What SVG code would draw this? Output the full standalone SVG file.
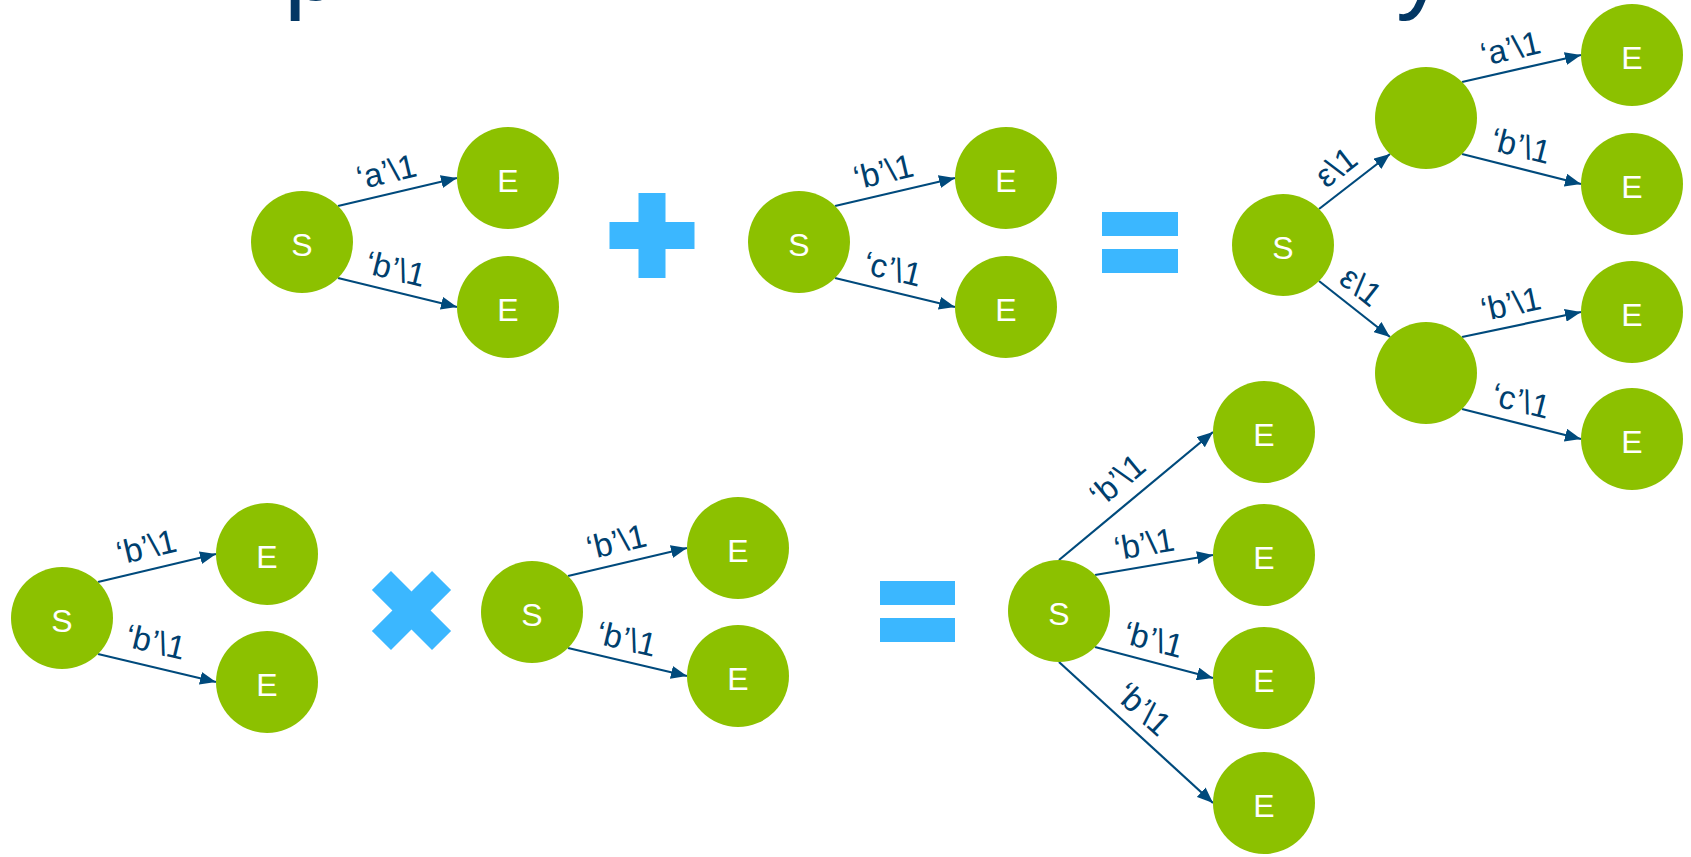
<svg xmlns="http://www.w3.org/2000/svg" width="1691" height="857" viewBox="0 0 1691 857">
  <style>
    .node circle { fill: #8CC100; }
    .node text { font-family: "Liberation Sans", Arial, sans-serif; font-size: 32px; fill: #ffffff; text-anchor: middle; }
    .edges line { stroke: #004A7C; stroke-width: 2.2; fill: none; marker-end: url(#arrow); }
    .lbl { font-family: "Liberation Sans", Arial, sans-serif; font-size: 33px; fill: #003F6E; text-anchor: middle; }
    .op { fill: #3BB7FF; }
    .title { font-family: "Liberation Sans", Arial, sans-serif; font-size: 100px; fill: #033764; }
  </style>
  <defs>
    <marker id="arrow" markerUnits="userSpaceOnUse" markerWidth="16" markerHeight="13" viewBox="0 0 16 13" refX="16" refY="6.5" orient="auto">
      <path d="M0,0 L16,6.5 L0,13 z" fill="#004A7C"/>
    </marker>
    <!-- operator glyph: a thick cross, 85 wide with 27 thick arms, centred on 0,0 -->
    <path id="cross" d="M-13.5,-42.5 H13.5 V-13.5 H42.5 V13.5 H13.5 V42.5 H-13.5 V13.5 H-42.5 V-13.5 H-13.5 Z"/>
  </defs>

  <rect width="1691" height="857" fill="#ffffff"/>

  <!-- heading running off the top edge; only its descenders fall inside the page -->
  <g id="title">
    <text class="title" x="284" y="0">p</text>
    <text class="title" x="1396" y="0">y</text>
  </g>

  <!-- operators -->
  <g id="op-plus" class="op"><use href="#cross" x="652" y="235.5"/></g>
  <g id="op-eq-top" class="op">
    <rect x="1102" y="212" width="76" height="24"/>
    <rect x="1102" y="249" width="76" height="24"/>
  </g>
  <g id="op-times" class="op"><use href="#cross" transform="translate(411.5 610.5) rotate(45)"/></g>
  <g id="op-eq-bottom" class="op">
    <rect x="880" y="581" width="75" height="24"/>
    <rect x="880" y="618" width="75" height="24"/>
  </g>

  <!-- connectors -->
  <g id="connectors" class="edges">
    <!-- first summand -->
    <line x1="338" y1="206" x2="457" y2="178"/>
    <line x1="338" y1="278" x2="457" y2="307"/>
    <!-- second summand -->
    <line x1="835" y1="206" x2="955" y2="178"/>
    <line x1="835" y1="278" x2="955" y2="307"/>
    <!-- sum -->
    <line x1="1319" y1="209" x2="1390" y2="154"/>
    <line x1="1319" y1="281" x2="1390" y2="337"/>
    <line x1="1462" y1="82" x2="1581" y2="55"/>
    <line x1="1462" y1="154" x2="1581" y2="184"/>
    <line x1="1462" y1="337" x2="1581" y2="312"/>
    <line x1="1462" y1="409" x2="1581" y2="439"/>
    <!-- first factor -->
    <line x1="98" y1="582" x2="216" y2="554"/>
    <line x1="98" y1="654" x2="216" y2="682"/>
    <!-- second factor -->
    <line x1="568" y1="576" x2="687" y2="548"/>
    <line x1="568" y1="648" x2="687" y2="676"/>
    <!-- product -->
    <line x1="1059" y1="560" x2="1213" y2="432"/>
    <line x1="1095" y1="575" x2="1213" y2="555"/>
    <line x1="1095" y1="647" x2="1213" y2="678"/>
    <line x1="1059" y1="662" x2="1213" y2="803"/>

    <g id="edge-labels">
      <text class="lbl" transform="translate(389 182.7) rotate(-13.2)">‘a’\1</text>
      <text class="lbl" transform="translate(393 280) rotate(13.7)">‘b’\1</text>
      <text class="lbl" transform="translate(886 182.7) rotate(-13.2)">‘b’\1</text>
      <text class="lbl" transform="translate(890 280) rotate(13.7)">‘c’\1</text>

      <text class="lbl" transform="translate(1343 176) rotate(-37.8)">ε\1</text>
      <text class="lbl" transform="translate(1354 295) rotate(38.3)">ε\1</text>
      <text class="lbl" transform="translate(1513 59.5) rotate(-12.8)">‘a’\1</text>
      <text class="lbl" transform="translate(1518 156.8) rotate(14.2)">‘b’\1</text>
      <text class="lbl" transform="translate(1513 315) rotate(-11.9)">‘b’\1</text>
      <text class="lbl" transform="translate(1518 411.8) rotate(14.2)">‘c’\1</text>

      <text class="lbl" transform="translate(149 558) rotate(-13.3)">‘b’\1</text>
      <text class="lbl" transform="translate(153 653) rotate(13.3)">‘b’\1</text>
      <text class="lbl" transform="translate(619 552.7) rotate(-13.2)">‘b’\1</text>
      <text class="lbl" transform="translate(624 650) rotate(13.2)">‘b’\1</text>

      <text class="lbl" transform="translate(1124.6 488.6) rotate(-39.7)">‘b’\1</text>
      <text class="lbl" transform="translate(1146 555.2) rotate(-9.7)">‘b’\1</text>
      <text class="lbl" transform="translate(1150.5 650.4) rotate(14.8)">‘b’\1</text>
      <text class="lbl" transform="translate(1136 717.4) rotate(42.5)">‘b’\1</text>
    </g>
  </g>

  <!-- first summand -->
  <g id="a-start" class="node"><circle cx="302" cy="242" r="51"/><text x="302" y="256">S</text></g>
  <g id="a-end-a" class="node"><circle cx="508" cy="178" r="51"/><text x="508" y="192">E</text></g>
  <g id="a-end-b" class="node"><circle cx="508" cy="307" r="51"/><text x="508" y="321">E</text></g>

  <!-- second summand -->
  <g id="b-start" class="node"><circle cx="799" cy="242" r="51"/><text x="799" y="256">S</text></g>
  <g id="b-end-b" class="node"><circle cx="1006" cy="178" r="51"/><text x="1006" y="192">E</text></g>
  <g id="b-end-c" class="node"><circle cx="1006" cy="307" r="51"/><text x="1006" y="321">E</text></g>

  <!-- sum -->
  <g id="sum-start" class="node"><circle cx="1283" cy="245" r="51"/><text x="1283" y="259">S</text></g>
  <g id="sum-mid-1" class="node"><circle cx="1426" cy="118" r="51"/></g>
  <g id="sum-mid-2" class="node"><circle cx="1426" cy="373" r="51"/></g>
  <g id="sum-end-a" class="node"><circle cx="1632" cy="55" r="51"/><text x="1632" y="69">E</text></g>
  <g id="sum-end-b1" class="node"><circle cx="1632" cy="184" r="51"/><text x="1632" y="198">E</text></g>
  <g id="sum-end-b2" class="node"><circle cx="1632" cy="312" r="51"/><text x="1632" y="326">E</text></g>
  <g id="sum-end-c" class="node"><circle cx="1632" cy="439" r="51"/><text x="1632" y="453">E</text></g>

  <!-- first factor -->
  <g id="c-start" class="node"><circle cx="62" cy="618" r="51"/><text x="62" y="632">S</text></g>
  <g id="c-end-1" class="node"><circle cx="267" cy="554" r="51"/><text x="267" y="568">E</text></g>
  <g id="c-end-2" class="node"><circle cx="267" cy="682" r="51"/><text x="267" y="696">E</text></g>

  <!-- second factor -->
  <g id="d-start" class="node"><circle cx="532" cy="612" r="51"/><text x="532" y="626">S</text></g>
  <g id="d-end-1" class="node"><circle cx="738" cy="548" r="51"/><text x="738" y="562">E</text></g>
  <g id="d-end-2" class="node"><circle cx="738" cy="676" r="51"/><text x="738" y="690">E</text></g>

  <!-- product -->
  <g id="prod-start" class="node"><circle cx="1059" cy="611" r="51"/><text x="1059" y="625">S</text></g>
  <g id="prod-end-1" class="node"><circle cx="1264" cy="432" r="51"/><text x="1264" y="446">E</text></g>
  <g id="prod-end-2" class="node"><circle cx="1264" cy="555" r="51"/><text x="1264" y="569">E</text></g>
  <g id="prod-end-3" class="node"><circle cx="1264" cy="678" r="51"/><text x="1264" y="692">E</text></g>
  <g id="prod-end-4" class="node"><circle cx="1264" cy="803" r="51"/><text x="1264" y="817">E</text></g>
</svg>
